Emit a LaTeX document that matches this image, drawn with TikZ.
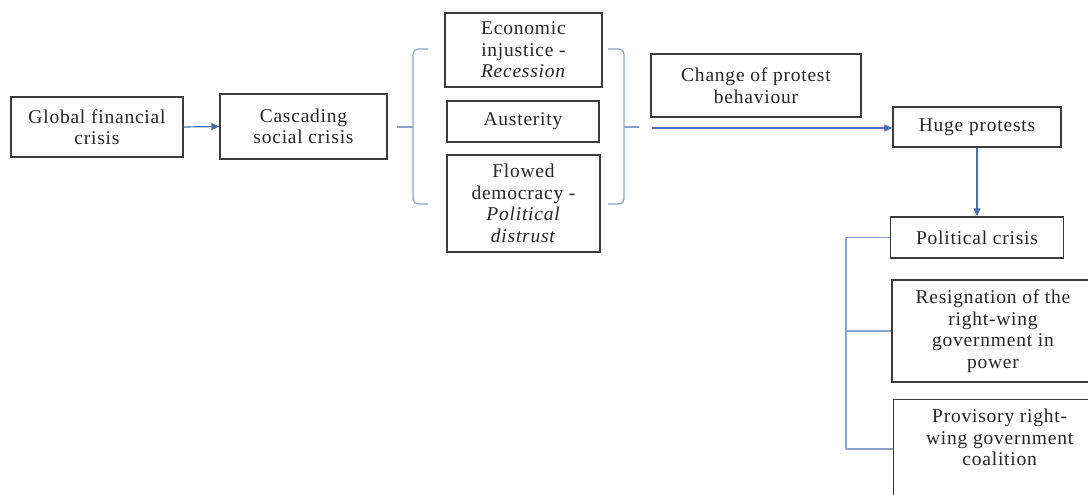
\documentclass[tikz,border=0pt]{standalone}
\usepackage{fontspec}
\setmainfont{Liberation Serif}[LetterSpace=4]
\usetikzlibrary{arrows.meta}
\definecolor{boxline}{HTML}{3C3C3C}
\definecolor{arrowblue}{HTML}{4A6FB0}
\definecolor{bracketblue}{HTML}{8AA2CC}
\tikzset{
  box/.style={draw=boxline, line width=1.3pt, align=center, inner sep=0pt,
    font=\fontsize{19.5}{21.5}\selectfont, text=black!85},
  txt/.style={align=center, inner sep=0pt, font=\fontsize{19.5}{21.5}\selectfont, text=black!85},
  arr/.style={draw=arrowblue, line width=1.2pt, -{Triangle[length=8pt,width=7pt]}},
  brk/.style={draw=bracketblue, line width=1.2pt, rounded corners=5pt},
  tree/.style={draw=bracketblue, line width=1.3pt},
}
\begin{document}
\begin{tikzpicture}[x=1pt,y=1pt]
\useasboundingbox (0,0) rectangle (1088,495);
\clip (0,0) rectangle (1088,495);
% nodes (y = 495 - image y)
\node[box, minimum width=172, minimum height=60] (gfc) at (97,368) {Global financial\\crisis};
\node[box, minimum width=167, minimum height=65] (csc) at (303.5,368.5) {Cascading\\social crisis};
\node[box, minimum width=157, minimum height=74] (eco) at (523.5,445) {Economic\\injustice -\\\textit{Recession}};
\node[box, minimum width=152, minimum height=41] (aus) at (523,373.5) {Austerity};
\node[box, minimum width=153, minimum height=97] (flo) at (523.5,291.5) {Flowed\\democracy -\\\textit{Political}\\\textit{distrust}};
\node[box, minimum width=210, minimum height=63] (chg) at (756,409.5) {Change of protest\\behaviour};
\node[box, minimum width=168, minimum height=40] (huge) at (977,368) {Huge protests};
\node[box, minimum width=173, minimum height=41] (pol) at (977,257.5) {Political crisis};
\node[box, minimum width=202, minimum height=102] (res) at (993,164) {Resignation of the\\right-wing\\government in\\power};
\node[box, anchor=north west, minimum width=206, minimum height=115] (pro) at (893,96) {};
\node[txt, anchor=north] (protxt) at ([xshift=3pt,yshift=-10pt]pro.north) {Provisory right-\\wing government\\coalition};
% left bracket
\coordinate (lbt) at (428,446);
\coordinate (lbb) at (428,291);
\coordinate (lbm) at (413,368);
\coordinate (lbs) at (397,368);
\draw[brk] (lbt) -- (413,446) -- (413,291) -- (lbb);
\draw[brk] (lbs) -- (lbm);
% right bracket
\coordinate (rbt) at (608,446);
\coordinate (rbb) at (608,291);
\coordinate (rbm) at (624,368);
\coordinate (rbs) at (639,368);
\draw[brk] (rbt) -- (624,446) -- (624,291) -- (rbb);
\draw[brk] (rbm) -- (rbs);
% arrows
\draw[arr] (gfc.east) -- (csc.west);
\coordinate (arrstart) at (652,367);
\draw[arr] (arrstart) -- (huge.west |- arrstart);
\draw[arr] (huge.south) -- (huge.south |- pol.north);
% tree
\coordinate (ttop) at (846,257.5);
\coordinate (tbot) at (846,46);
\draw[tree] (pol.west) -- (ttop) -- (tbot);
\draw[tree] (res.west) -- (846,164);
\draw[tree] (pro.west |- 0,46) -- (tbot);
\end{tikzpicture}
\end{document}
